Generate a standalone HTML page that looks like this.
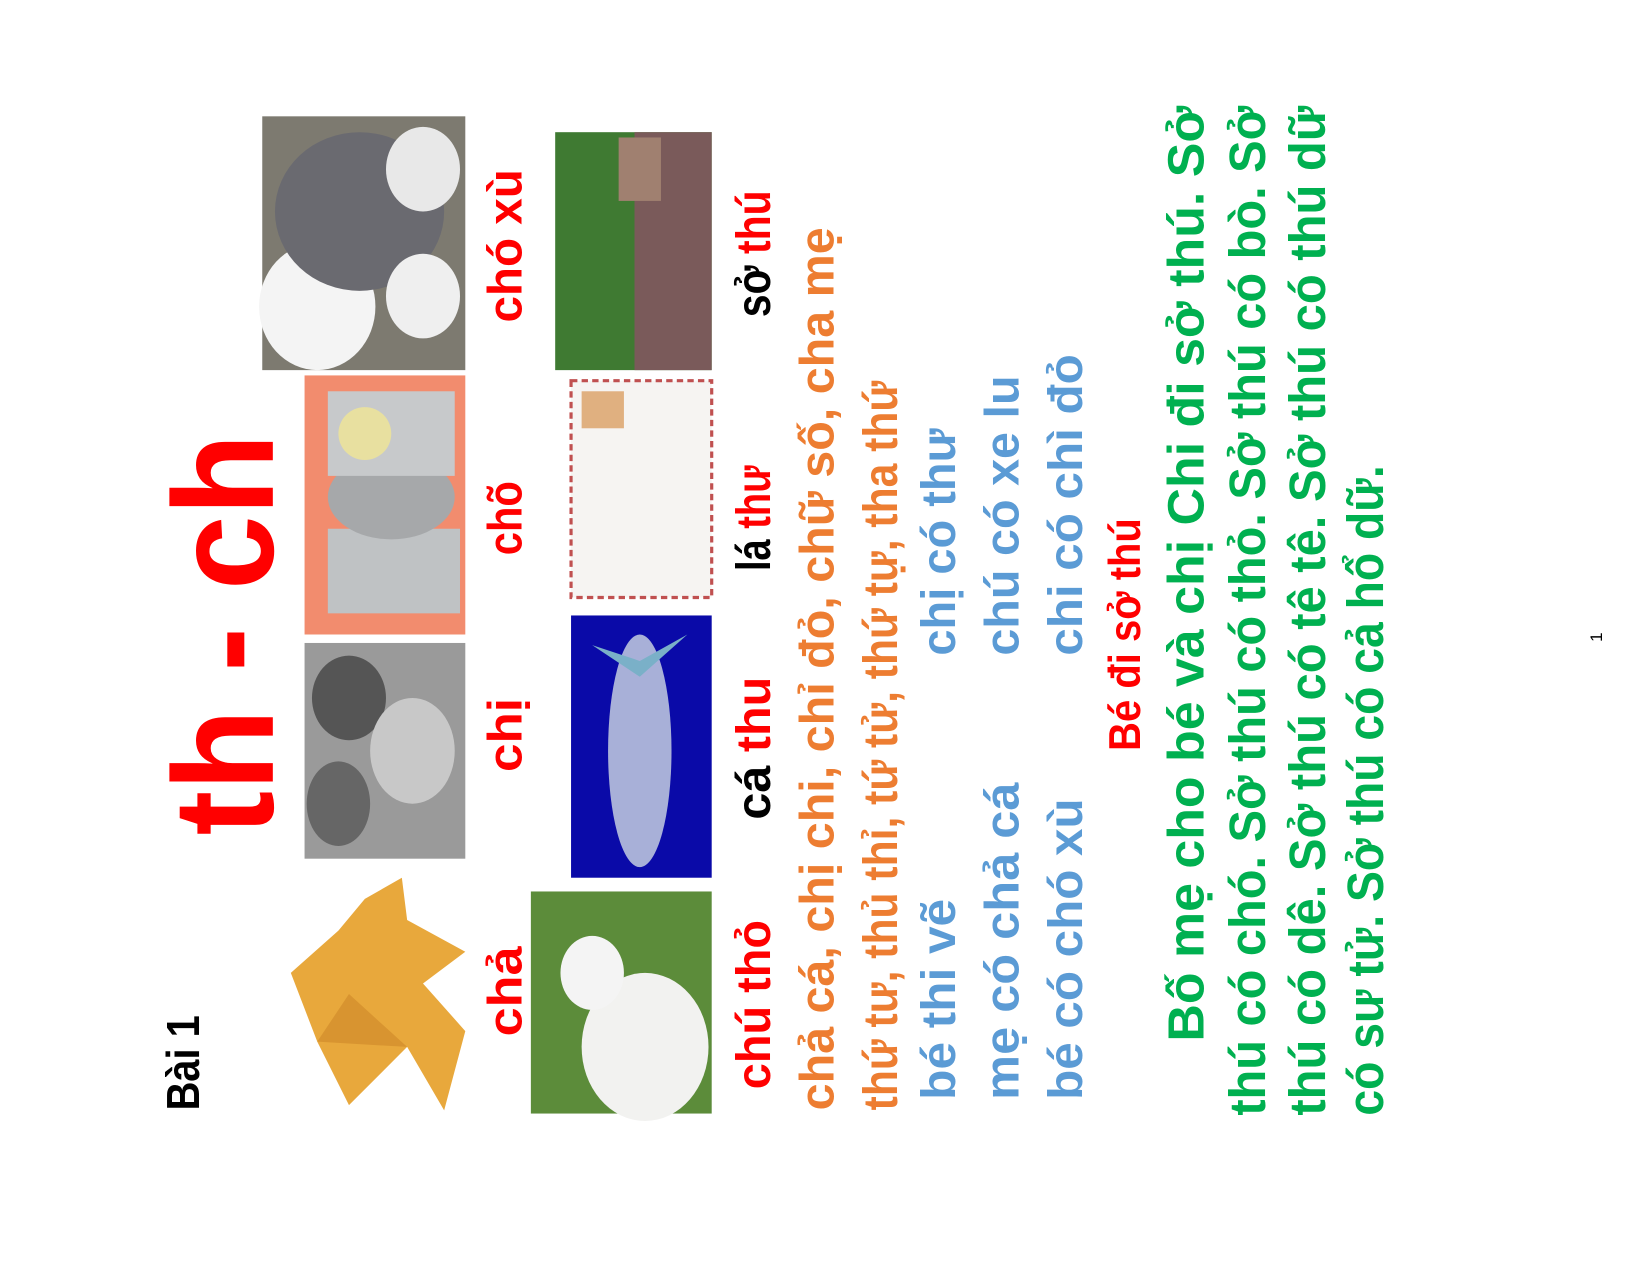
<!DOCTYPE html>
<html><head><meta charset="utf-8"><style>
html,body{margin:0;padding:0;background:#fff;}
svg{display:block;}
text{font-family:"Liberation Sans","DejaVu Sans",sans-serif;font-weight:bold;}
</style></head><body>
<svg width="1650" height="1275" viewBox="0 0 1650 1275">
<rect width="1650" height="1275" fill="#fff"/>
<g transform="scale(1.0575)">
<g>
<polygon points="275,920 320,880 345,850 380,830 385,870 440,900 400,930 440,975 420,1050 385,990 330,1045 300,985" fill="#e8a83c"/>
<polygon points="300,985 330,940 385,990" fill="#d89430"/>
</g>
<g>
<rect x="288" y="608" width="152" height="204" fill="#9a9a9a"/>
<ellipse cx="330" cy="660" rx="35" ry="40" fill="#555"/>
<ellipse cx="320" cy="760" rx="30" ry="40" fill="#666"/>
<ellipse cx="390" cy="710" rx="40" ry="50" fill="#c8c8c8"/>
</g>
<g>
<rect x="288" y="355" width="152" height="245" fill="#f28c6e"/>
<rect x="310" y="500" width="125" height="80" fill="#bfc2c4"/>
<ellipse cx="370" cy="470" rx="60" ry="40" fill="#a6a8aa"/>
<rect x="310" y="370" width="120" height="80" fill="#c7c9cb"/>
<ellipse cx="345" cy="410" rx="25" ry="25" fill="#e8e0a0"/>
</g>
<g>
<rect x="248" y="110" width="192" height="240" fill="#7d7a70"/>
<ellipse cx="300" cy="290" rx="55" ry="60" fill="#f4f4f4"/>
<ellipse cx="340" cy="200" rx="80" ry="75" fill="#6a6a70"/>
<ellipse cx="400" cy="160" rx="35" ry="40" fill="#e8e8e8"/>
<ellipse cx="400" cy="280" rx="35" ry="40" fill="#efefef"/>
</g>
<g>
<rect x="502" y="843" width="171" height="210" fill="#5c8c3a"/>
<ellipse cx="610" cy="990" rx="60" ry="70" fill="#f2f2f0"/>
<ellipse cx="560" cy="920" rx="30" ry="35" fill="#f4f4f4"/>
</g>
<g>
<rect x="540" y="582" width="133" height="248" fill="#0a0aa8"/>
<ellipse cx="605" cy="710" rx="30" ry="110" fill="#a8b0d8"/>
<polygon points="560,610 605,640 650,600 605,625" fill="#7ab0c8"/>
</g>
<g>
<rect x="540" y="360" width="133" height="205" fill="#f6f4f2" stroke="#c05050" stroke-dasharray="6,4" stroke-width="3"/>
<rect x="550" y="370" width="40" height="35" fill="#e0b080"/>
</g>
<g>
<rect x="525" y="125" width="148" height="225" fill="#3f7a32"/>
<rect x="600" y="125" width="73" height="225" fill="#7a5a5a"/>
<rect x="585" y="130" width="40" height="60" fill="#a08070"/>
</g>
<g transform="translate(0,1275) rotate(-90)">
<text x="225" y="188" font-size="44" fill="#000" textLength="90" lengthAdjust="spacingAndGlyphs">Bài 1</text>
<text x="485" y="258" font-size="135" fill="#ff0000" textLength="380" lengthAdjust="spacingAndGlyphs">th - ch</text>
<text x="295" y="493" font-size="46" fill="#ff0000" textLength="85" lengthAdjust="spacingAndGlyphs">chả</text>
<text x="545" y="493" font-size="46" fill="#ff0000" textLength="70" lengthAdjust="spacingAndGlyphs">chị</text>
<text x="750" y="493" font-size="46" fill="#ff0000" textLength="70" lengthAdjust="spacingAndGlyphs">chõ</text>
<text x="970" y="493" font-size="46" fill="#ff0000" textLength="145" lengthAdjust="spacingAndGlyphs">chó xù</text>
<text x="245" y="728" font-size="46" fill="#ff0000" textLength="160" lengthAdjust="spacingAndGlyphs">chú thỏ</text>
<text x="500" y="728" font-size="46" fill="#000" textLength="135" lengthAdjust="spacingAndGlyphs">cá <tspan fill="#ff0000">thu</tspan></text>
<text x="735" y="728" font-size="46" fill="#000" textLength="100" lengthAdjust="spacingAndGlyphs">lá <tspan fill="#ff0000">thư</tspan></text>
<text x="975" y="728" font-size="46" fill="#000" textLength="120" lengthAdjust="spacingAndGlyphs">sở <tspan fill="#ff0000">thú</tspan></text>
<text x="225" y="788" font-size="46" fill="#ed7d31" textLength="835" lengthAdjust="spacingAndGlyphs">chả cá, chị chi, chỉ đỏ, chữ số, cha mẹ</text>
<text x="225" y="848" font-size="46" fill="#ed7d31" textLength="690" lengthAdjust="spacingAndGlyphs">thứ tư, thủ thỉ, tứ tử, thứ tự, tha thứ</text>
<g fill="#5b9bd5" font-size="46">
<text x="235" y="903" textLength="190" lengthAdjust="spacingAndGlyphs">bé thi vẽ</text>
<text x="655" y="903" textLength="215" lengthAdjust="spacingAndGlyphs">chị có thư</text>
<text x="235" y="963" textLength="300" lengthAdjust="spacingAndGlyphs">mẹ có chả cá</text>
<text x="655" y="963" textLength="265" lengthAdjust="spacingAndGlyphs">chú có xe lu</text>
<text x="235" y="1023" textLength="285" lengthAdjust="spacingAndGlyphs">bé có chó xù</text>
<text x="655" y="1023" textLength="285" lengthAdjust="spacingAndGlyphs">chi có chì đỏ</text>
</g>
<text x="565" y="1078" font-size="42" fill="#ff0000" textLength="220" lengthAdjust="spacingAndGlyphs">Bé đi sở thú</text>
<g fill="#00b050" font-size="48">
<text x="290" y="1138" textLength="885" lengthAdjust="spacingAndGlyphs">Bố mẹ cho bé và chị Chi đi sở thú. Sở</text>
<text x="220" y="1196" textLength="955" lengthAdjust="spacingAndGlyphs">thú có chó. Sở thú có thỏ. Sở thú có bò. Sở</text>
<text x="220" y="1253" textLength="955" lengthAdjust="spacingAndGlyphs">thú có dê. Sở thú có tê tê. Sở thú có thú dữ</text>
<text x="220" y="1308" textLength="615" lengthAdjust="spacingAndGlyphs">có sư tử. Sở thú có cả hổ dữ.</text>
</g>
<text x="668" y="1515" font-size="16" fill="#000" style="font-weight:normal">1</text>
</g>
</g>
</svg>
</body></html>
